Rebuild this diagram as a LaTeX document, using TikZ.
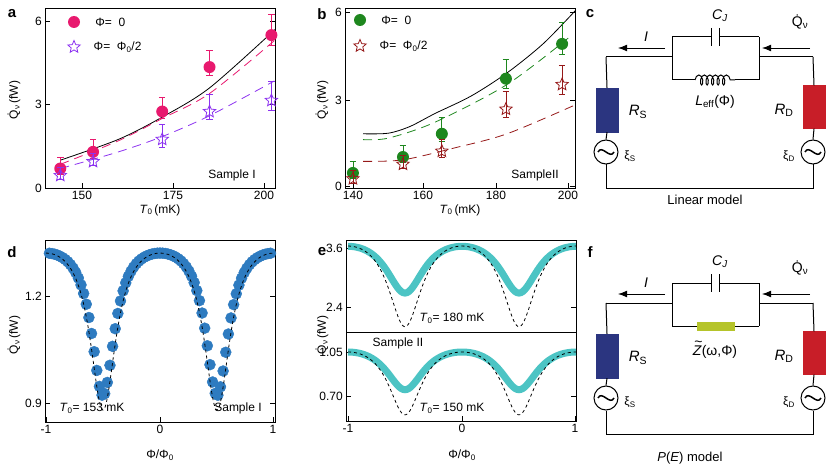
\documentclass[tikz,border=0pt]{standalone}
\usepackage{fontspec}
\setmainfont{Liberation Sans}
\usetikzlibrary{shapes.geometric, arrows.meta, positioning, decorations.pathmorphing}
\definecolor{pinkdot}{RGB}{232,25,110}
\definecolor{violet}{RGB}{140,50,240}
\definecolor{greendot}{RGB}{30,135,30}
\definecolor{darkred}{RGB}{150,25,25}
\definecolor{bluedot}{RGB}{46,123,192}
\definecolor{cyanline}{RGB}{76,196,196}
\definecolor{navyres}{RGB}{43,53,128}
\definecolor{redres}{RGB}{200,30,40}
\definecolor{olive}{RGB}{181,196,42}
\newcommand\Qdot{\.{Q}\textsubscript{ν}}
\newcommand\Tzero{\textit{T}\textsubscript{0}}
\newcommand\sub[1]{\textsubscript{#1}}
\begin{document}
\begin{tikzpicture}[x=1pt, y=-1pt,
                    font=\fontsize{12}{14}\selectfont,
                    every node/.style={inner sep=1pt},
                    axisbox/.style={draw, line width=0.8pt},
                    panel/.style={font=\fontsize{15}{17}\selectfont\bfseries},
                    dot/.style={circle, fill=#1, minimum size=12pt, inner sep=0pt},
                    starmark/.style={star, star points=5, star point ratio=2.2, draw=#1, thick, minimum size=13pt, inner sep=0pt},
                    errbar/.style={#1, thick},
                    wire/.style={line width=1pt},
                    fit dash/.style={#1, thick, dash pattern=on 9pt off 6pt}
                    ]
\useasboundingbox (0,0) rectangle (830,468);

% panel labels
\node[panel] (la) at (12,14) {a};
\node[panel] (lb) at (322,14) {b};
\node[panel] (lc) at (590,14) {c};
\node[panel] (ld) at (12,252) {d};
\node[panel] (le) at (322,252) {e};
\node[panel] (lf) at (590,252) {f};

% ---------------- panel a
\draw[axisbox] (45,8) rectangle (275,188);
\foreach \v/\yy in {0/188, 3/104, 6/21} {
  \draw (45,\yy) -- ++(5,0) (275,\yy) -- ++(-5,0);
  \node[left] at (43,\yy) {\v};
}
\foreach \v/\xx in {150/82, 175/173, 200/264} {
  \draw (\xx,188) -- ++(0,-5);
  \node[below] at (\xx,190) {\v};
}
\node[rotate=90] (ya) at (14,100) {\Qdot\,(fW)};
\node (xa) at (160,210) {\Tzero\,(mK)};
\node (sa) at (232,175) {Sample I};
\begin{scope}[shift={(45,188)}, x=3.64pt, y=27.8pt]
  \draw[black, thick] plot[smooth] coordinates {(4.2,1.0) (20.2,1.75) (32.2,2.55) (45.2,3.6) (63.2,5.7)};
  \draw[fit dash=pinkdot] plot[smooth] coordinates {(4.2,0.85) (20.2,1.7) (32.2,2.5) (45.2,3.4) (63,5.3)};
  \draw[fit dash=violet] plot[smooth] coordinates {(4.2,0.7) (20.2,1.3) (32.2,1.85) (45.2,2.6) (63,3.85)};
  \foreach \t/\q/\e in {4.2/0.7/0.4, 13.2/1.3/0.45, 32.2/2.75/0.5, 45.2/4.35/0.6, 62.2/5.5/0.75} {
    \draw[errbar=pinkdot] (\t,\q-\e*0.5) -- (\t,\q+\e) (\t-0.9,\q+\e) -- (\t+0.9,\q+\e) (\t-0.9,\q-\e*0.5) -- (\t+0.9,\q-\e*0.5);
    \node[dot=pinkdot] at (\t,\q) {};
  }
  \foreach \t/\q/\e in {4.2/0.45/0.3, 13.2/0.95/0.3, 32.2/1.75/0.55, 45.2/2.75/0.6, 62.2/3.15/0.7} {
    \draw[errbar=violet] (\t,\q-\e*0.5) -- (\t,\q+\e) (\t-0.9,\q+\e) -- (\t+0.9,\q+\e) (\t-0.9,\q-\e*0.5) -- (\t+0.9,\q-\e*0.5);
    \node[starmark=violet] at (\t,\q) {};
  }
\end{scope}
\node[dot=pinkdot] (ka1) at (74,22) {};
\node[right=14pt of ka1] {Φ=\ \ 0};
\node[starmark=violet] (ka2) at (74,47) {};
\node[right=14pt of ka2] {Φ=\ \ Φ\sub{0}/2};

% ---------------- panel b
\draw[axisbox] (345,8) rectangle (575,188);
\foreach \v/\yy in {0/186, 3/100, 6/12} {
  \draw (345,\yy) -- ++(5,0) (575,\yy) -- ++(-5,0);
  \node[left] at (343,\yy) {\v};
}
\foreach \v/\xx in {140/353, 160/423, 180/496, 200/568} {
  \draw (\xx,188) -- ++(0,-5);
  \node[below] at (\xx,190) {\v};
}
\node[rotate=90] (yb) at (322,100) {\Qdot\,(fW)};
\node (xb) at (460,210) {\Tzero\,(mK)};
\node (sb) at (535,175) {SampleII};
\begin{scope}[shift={(345,186)}, x=3.6pt, y=29pt]
  \draw[black, thick] plot[smooth] coordinates {(5,1.8) (12,1.82) (18,2.05) (25,2.5) (35,3.1) (45,3.9) (55,4.9) (64,6.05)};
  \draw[fit dash=greendot] plot[smooth] coordinates {(5,1.6) (12,1.65) (25,2.2) (45,3.5) (62,5.1)};
  \draw[fit dash=darkred] plot[smooth] coordinates {(5,0.85) (16,0.9) (30,1.3) (45,1.8) (64,2.8)};
  \foreach \t/\q/\e in {2.2/0.45/0.4, 16.1/1.0/0.4, 26.9/1.8/0.55, 44.7/3.7/0.65, 60.3/4.9/0.75} {
    \draw[errbar=greendot] (\t,\q-\e*0.5) -- (\t,\q+\e) (\t-0.9,\q+\e) -- (\t+0.9,\q+\e) (\t-0.9,\q-\e*0.5) -- (\t+0.9,\q-\e*0.5);
    \node[dot=greendot] at (\t,\q) {};
  }
  \foreach \t/\q/\e in {2.2/0.25/0.3, 16.1/0.75/0.3, 26.9/1.2/0.4, 44.7/2.65/0.6, 60.3/3.5/0.65} {
    \draw[errbar=darkred] (\t,\q-\e*0.5) -- (\t,\q+\e) (\t-0.9,\q+\e) -- (\t+0.9,\q+\e) (\t-0.9,\q-\e*0.5) -- (\t+0.9,\q-\e*0.5);
    \node[starmark=darkred] at (\t,\q) {};
  }
\end{scope}
\node[dot=greendot] (kb1) at (360,20) {};
\node[right=14pt of kb1] {Φ=\ \ 0};
\node[starmark=darkred] (kb2) at (360,46) {};
\node[right=14pt of kb2] {Φ=\ \ Φ\sub{0}/2};

% ---------------- panel d
\draw[axisbox] (45,240) rectangle (275,422);
\foreach \v/\yy in {1.2/296, 0.9/403} {
  \draw (45,\yy) -- ++(5,0) (275,\yy) -- ++(-5,0);
  \node[left] at (43,\yy) {\v};
}
\foreach \v/\xx in {-1/46, 0/160, 1/273} {
  \draw (\xx,422) -- ++(0,-5);
  \node[below] at (\xx,424) {\v};
}
\node[rotate=90] (yd) at (14,335) {\Qdot\,(fW)};
\node (xd) at (160,455) {Φ/Φ\sub{0}};
\begin{scope}[shift={(160,403)}, x=114pt, y=357pt]
  \fill[bluedot] plot[domain=-0.97:0.97, samples=85, mark=*, mark size=5.5pt, only marks]
    (\x, {1.384-0.464/(1+(cos(180*\x)/0.4)^2)-0.9});
  \draw[thick, dashed] plot[domain=-1:1, samples=201, smooth]
    (\x, {1.409-0.529/(1+(cos(180*\x)/0.45)^2)-0.9});
\end{scope}
\node (td) at (92,408) {\Tzero= 153 mK};
\node (sd) at (238,408) {Sample I};

% ---------------- panel e
\draw[axisbox] (346,240) rectangle (576,421);
\draw[axisbox] (346,332) -- (576,332);
\foreach \v/\yy in {3.6/248, 2.4/307, 1.05/352, 0.70/396} {
  \draw (346,\yy) -- ++(5,0) (576,\yy) -- ++(-5,0);
  \node[left] at (344,\yy) {\v};
}
\foreach \v/\xx in {-1/348, 0/462, 1/575} {
  \draw (\xx,421) -- ++(0,-5);
  \node[below] at (\xx,423) {\v};
}
\node[rotate=90] (ye) at (322,335) {\Qdot\,(fW)};
\node (xe) at (462,455) {Φ/Φ\sub{0}};
\begin{scope}[shift={(462,248)}, x=114pt, y=49.2pt]
  \clip (-1.02,0.16) rectangle (1.02,-1.71);
  \draw[cyanline, line width=7pt] plot[domain=-1:1, samples=121, smooth]
    (\x, {4.1-1.416/(1+(cos(180*\x)/0.7)^2)-3.6});
  \draw[thick, dashed] plot[domain=-1:1, samples=201, smooth]
    (\x, {4.23-2.23/(1+(cos(180*\x)/0.6)^2)-3.6});
\end{scope}
\begin{scope}[shift={(462,352)}, x=114pt, y=125.7pt]
  \clip (-1.02,0.16) rectangle (1.02,-0.54);
  \draw[cyanline, line width=7pt] plot[domain=-1:1, samples=121, smooth]
    (\x, {1.197-0.447/(1+(cos(180*\x)/0.7)^2)-1.05});
  \draw[thick, dashed] plot[domain=-1:1, samples=201, smooth]
    (\x, {1.23-0.68/(1+(cos(180*\x)/0.6)^2)-1.05});
\end{scope}
\node (te1) at (452,318) {\Tzero= 180 mK};
\node (se) at (398,343) {Sample II};
\node (te2) at (452,408) {\Tzero= 150 mK};

% ---------------- circuits c and f
\foreach \dy/\cap in {0/c, 246/f} {
  \begin{scope}[yshift=-\dy pt]
    \coordinate (tl) at (606,57);  \coordinate (tr) at (813,57);
    \coordinate (pl) at (672,57);  \coordinate (pr) at (759,57);
    \draw[wire] (tl) -- (pl) (pr) -- (tr);
    \draw[wire] (672,37) -- (672,80) (759,37) -- (759,80);
    \draw[wire] (672,37) -- (711,37) (719,37) -- (759,37);
    \draw[wire] (711,28) -- (711,46) (719,28) -- (719,46);
    \node (cj) at (720,16) {\fontsize{14}{16}\selectfont\textit{C}\sub{\textit{J}}};
    % resistors and sources
    \node[draw=navyres, fill=navyres, minimum width=22pt, minimum height=44pt, inner sep=0pt] (rs) at (607,110) {};
    \node[draw=redres, fill=redres, minimum width=22pt, minimum height=43pt, inner sep=0pt] (rd) at (814,107) {};
    \node[draw, circle, wire, minimum size=24pt, inner sep=0pt] (gs) at (606,152) {};
    \node[draw, circle, wire, minimum size=24pt, inner sep=0pt] (gd) at (813,152) {};
    \draw[line width=1.5pt] (598,152) .. controls (602,144) and (610,160) .. (614,152);
    \draw[line width=1.5pt] (805,152) .. controls (809,144) and (817,160) .. (821,152);
    \draw[wire] (tl) -- (rs.north) (rs.south) -- (gs.north);
    \draw[wire] (tr) -- (rd.north) (rd.south) -- (gd.north);
    \draw[wire] (gs.south) -- (606,188) -- (813,188) -- (gd.south);
    \node (rsl) at (638,112) {\fontsize{15}{17}\selectfont\textit{R}\sub{S}};
    \node (rdl) at (784,110) {\fontsize{15}{17}\selectfont\textit{R}\sub{D}};
    \node (xs) at (630,156) {ξ\sub{S}};
    \node (xdl) at (789,156) {ξ\sub{D}};
    % arrows
    \draw[-{Latex[length=9pt]}, line width=0.8pt] (665,48) -- (618,48);
    \node (il) at (646,37) {\fontsize{14}{16}\selectfont\textit{I}};
    \draw[-{Latex[length=9pt]}, line width=0.8pt] (810,48) -- (762,48);
    \node (ql) at (800,22) {\fontsize{14}{16}\selectfont\Qdot};
  \end{scope}
}
% middle element of c
\draw[wire] (672,80) -- (695,80) (735,80) -- (759,80);
\draw[wire, decorate, decoration={coil, aspect=0.5, segment length=5.5pt, amplitude=5pt}] (695,80) -- (735,80);
\node (lj) at (715,102) {\fontsize{14}{16}\selectfont\textit{L}\sub{eff}(Φ)};
\node (lm) at (705,200) {\fontsize{13}{15}\selectfont Linear model};
% middle element of f
\draw[wire] (672,326) -- (697,326) (735,326) -- (759,326);
\node[fill=olive, minimum width=38pt, minimum height=9pt, inner sep=0pt] (zz) at (716,326) {};
\node (zl) at (715,350) {\fontsize{14}{16}\selectfont\rlap{\hspace{1.5pt}\raisebox{0.62em}{\~{}}}\textit{Z}(ω,Φ)};
\node (pm) at (690,458) {\fontsize{13}{15}\selectfont\textit{P}(\textit{E}) model};
\end{tikzpicture}
\end{document}
